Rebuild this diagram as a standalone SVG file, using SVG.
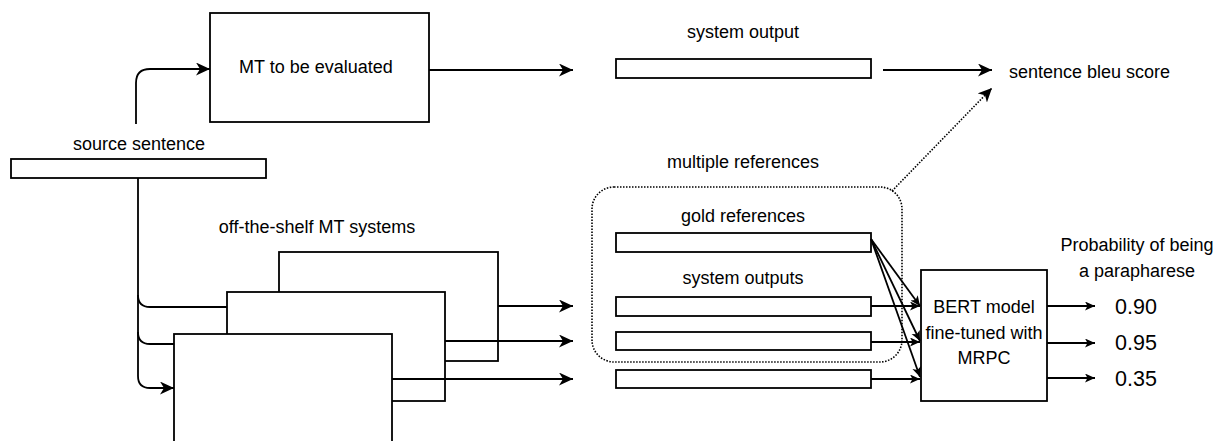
<svg xmlns="http://www.w3.org/2000/svg" width="1215" height="441" viewBox="0 0 1215 441">
<style>
.box{fill:#fff;stroke:#000;stroke-width:1.8}
.bar{fill:#fff;stroke:#000;stroke-width:1.8}
.t{font-family:"Liberation Sans",Arial,sans-serif;font-size:18px;fill:#000}
.num{font-family:"Liberation Sans",Arial,sans-serif;font-size:21.5px;fill:#000}
.c{fill:none;stroke:#000;stroke-width:1.8}
.d{fill:none;stroke:#000;stroke-width:1.6;stroke-dasharray:1.5 1.5}
</style>
<defs>
<marker id="ah" markerUnits="userSpaceOnUse" markerWidth="16" markerHeight="14" refX="14" refY="6.5" orient="auto">
<path d="M0,0 L14,6.5 L0,13 L4,6.5 Z" fill="#000"/>
</marker>
<marker id="as" markerUnits="userSpaceOnUse" markerWidth="12" markerHeight="10" refX="10" refY="4.5" orient="auto">
<path d="M0,0 L10,4.5 L0,9 L2.5,4.5 Z" fill="#000"/>
</marker>
</defs>
<g id="mt-eval"><rect class="box" x="210" y="13" width="219" height="109"/><text class="t" x="316" y="73" text-anchor="middle">MT to be evaluated</text></g>
<g id="source"><text class="t" x="139" y="150" text-anchor="middle">source sentence</text><rect class="bar" x="11" y="159" width="255" height="19"/></g>
<g id="sysout"><text class="t" x="743" y="38" text-anchor="middle">system output</text><rect class="bar" x="616" y="59" width="255" height="19"/></g>
<g id="bleu"><text class="t" x="1009" y="78">sentence bleu score</text></g>
<g id="multi-label"><text class="t" x="743" y="168" text-anchor="middle">multiple references</text></g>
<g id="multi"><rect class="d" x="592" y="187" width="310" height="175" rx="22" ry="22"/></g>
<g id="gold"><text class="t" x="743" y="222" text-anchor="middle">gold references</text><rect class="bar" x="616" y="233" width="255" height="19"/></g>
<g id="sysouts-label"><text class="t" x="743" y="284" text-anchor="middle">system outputs</text></g>
<g id="so1"><rect class="bar" x="616" y="297" width="255" height="19"/></g>
<g id="so2"><rect class="bar" x="616" y="332" width="255" height="18"/></g>
<g id="so3"><rect class="bar" x="616" y="370" width="255" height="18"/></g>
<g id="ots-label"><text class="t" x="317" y="233" text-anchor="middle">off-the-shelf MT systems</text></g>
<g id="mtA"><rect class="box" x="279" y="252" width="219" height="109"/></g>
<g id="mtB"><rect class="box" x="227" y="292" width="218" height="109"/></g>
<g id="mtC"><rect class="box" x="174" y="334" width="218" height="112"/></g>
<g id="bert"><rect class="box" x="921" y="270" width="126" height="131"/>
<text class="t" x="984" y="313" text-anchor="middle">BERT model</text>
<text class="t" x="984" y="339" text-anchor="middle">fine-tuned with</text>
<text class="t" x="984" y="364" text-anchor="middle">MRPC</text></g>
<g id="prob"><text class="t" x="1137" y="251" text-anchor="middle">Probability of being</text><text class="t" x="1137" y="277" text-anchor="middle">a parapharese</text></g>
<g id="v1"><text class="num" x="1115" y="314">0.90</text></g>
<g id="v2"><text class="num" x="1115" y="350">0.95</text></g>
<g id="v3"><text class="num" x="1115" y="386">0.35</text></g>
<g id="connectors">
<path class="c" d="M136,124 V83 Q136,69 150,69 H210" marker-end="url(#ah)"/>
<path class="c" d="M429,70 H573" marker-end="url(#ah)"/>
<path class="c" d="M883,70 H992" marker-end="url(#ah)"/>
<path class="d" d="M892,191 L992,88" marker-end="url(#ah)"/>
<path class="c" d="M138,178 V376 Q138,388 150,388 H174" marker-end="url(#ah)"/>
<path class="c" d="M138,295 Q138,307 150,307 H227"/>
<path class="c" d="M138,332 Q138,344 150,344 H174"/>
<path class="c" d="M498,306 H573" marker-end="url(#ah)"/>
<path class="c" d="M445,341 H573" marker-end="url(#ah)"/>
<path class="c" d="M392,379 H573" marker-end="url(#ah)"/>
<path class="c" d="M871,306 H920" marker-end="url(#as)"/>
<path class="c" d="M871,342 H920" marker-end="url(#as)"/>
<path class="c" d="M871,379 H920" marker-end="url(#as)"/>
<path class="c" d="M871,239 L920,306" marker-end="url(#as)"/>
<path class="c" d="M871,239 L920,341" marker-end="url(#as)"/>
<path class="c" d="M871,239 L920,377" marker-end="url(#as)"/>
<path class="c" d="M1047,306 H1095" marker-end="url(#as)"/>
<path class="c" d="M1047,343 H1095" marker-end="url(#as)"/>
<path class="c" d="M1047,378 H1095" marker-end="url(#as)"/>
</g>
</svg>
